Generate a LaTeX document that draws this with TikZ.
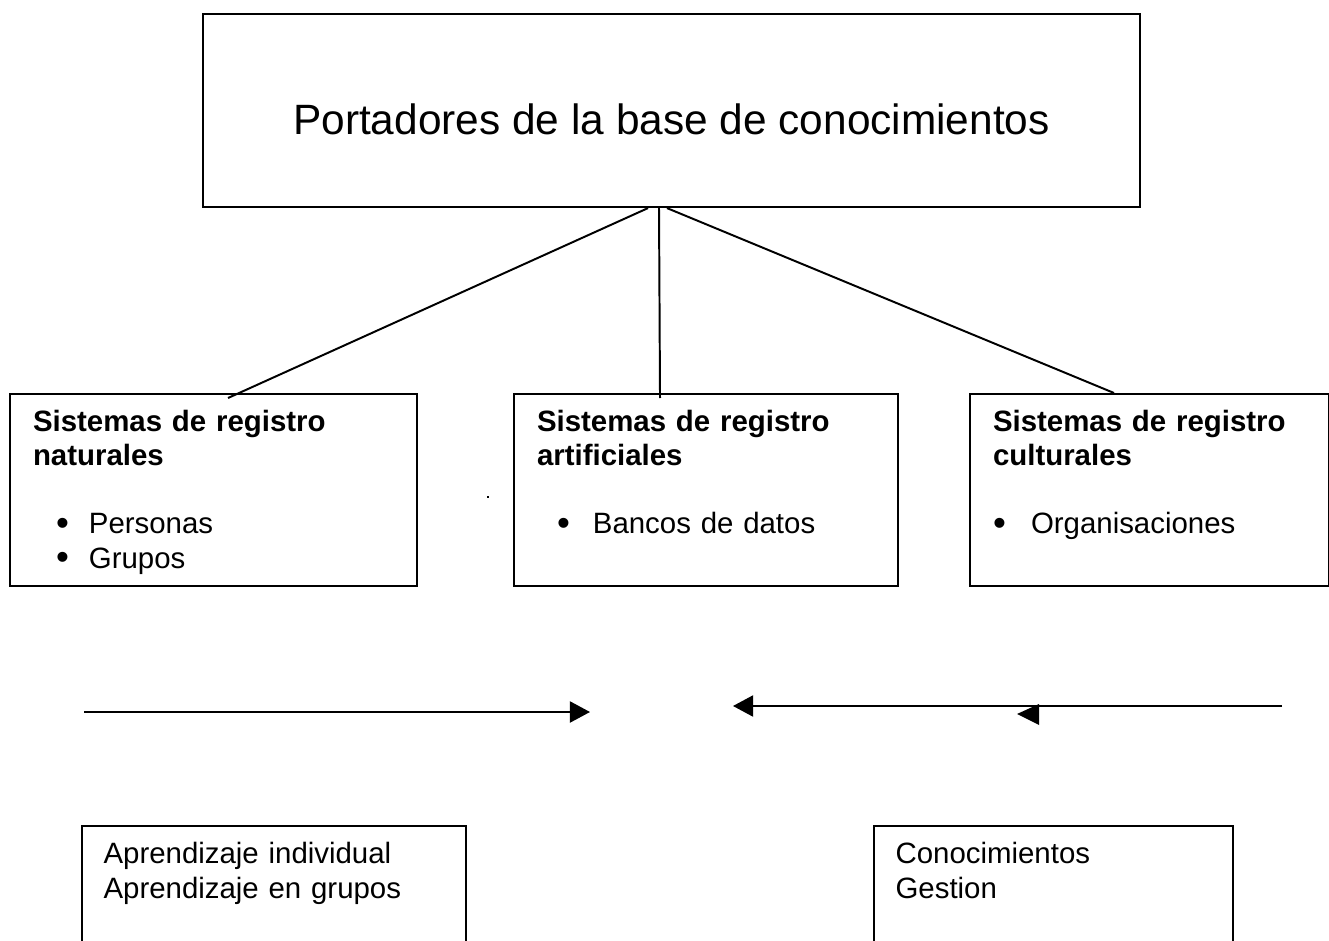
\documentclass[tikz,border=0pt]{standalone}
\usepackage{fontspec}
\setmainfont{Liberation Sans}
\usepackage{tikz}
\usetikzlibrary{arrows.meta,positioning,calc}

% bullet line: indent, gap to the text, text
\newcommand{\bitem}[3]{\hspace*{#1}\makebox[#2][l]{\raisebox{-0.6pt}{\fontsize{15}{15}\selectfont\textbullet}}#3}

\begin{document}
\begin{tikzpicture}[
    x=0.408pt, y=0.408pt,
    line width=0.8pt,
    every node/.style={font=\fontsize{12}{13.9}\selectfont},
    titlebox/.style={
        draw, anchor=north, inner sep=0pt, minimum width=382.3pt,
        text height=49.2pt, text depth=29.6pt,
        font=\fontsize{17.3}{20}\selectfont
    },
    regbox/.style={
        draw, anchor=north west, align=left, inner xsep=9.4pt, inner ysep=0pt,
        text height=15.4pt, text depth=62.9pt, text width=#1
    },
    lowbox/.style={
        draw, anchor=north west, align=left, inner xsep=8.8pt, inner ysep=0pt,
        text height=15.5pt, text depth=39.6pt, text width=#1
    },
    arrow/.style={-{Triangle[length=8.2pt,width=8.6pt]}}
]
\clip (0,0) rectangle (1329,-940);

% Titel
\node[titlebox] (base) at (671.5,-13) {Portadores de la base de conocimientos};

% Sistemas de registro
\node[regbox=147.3pt] (natur) at (9,-393)
    {\textbf{Sistemas de registro}\\\textbf{naturales}\\[13.9pt]
     \bitem{9.4pt}{13.4pt}{Personas}\\\bitem{9.4pt}{13.4pt}{Grupos}};
\node[regbox=137.9pt] (artif) at (513,-393)
    {\textbf{Sistemas de registro}\\\textbf{artificiales}\\[13.9pt]
     \bitem{8.2pt}{14.6pt}{Bancos de datos}};
\node[regbox=127.7pt] (cultu) at (969,-393)
    {\textbf{Sistemas de registro}\\\textbf{culturales}\\[13.9pt]
     \bitem{0pt}{15.5pt}{Organisaciones}};

% Aprendizaje / Conocimientos
\node[lowbox=139.1pt] (aprend) at (81,-825)
    {Aprendizaje individual\\Aprendizaje en grupos};
\node[lowbox=128.9pt] (conoc) at (873,-825)
    {Conocimientos\\Gestion};

% Lineas
\draw ([shift={(-23.5,0)}]base.south) -- ([shift={(14.5,-5)}]natur.north);
\draw ([shift={(-12.5,0)}]base.south) -- ([shift={(-46,-5)}]artif.north);
\draw ([shift={(-4.5,0)}]base.south) -- ([shift={(-35.5,0)}]cultu.north);

% Flechas
\coordinate (izqA) at (84,-712);
\coordinate (izqB) at (590,-712);
\coordinate (derA) at (1282,-706);
\coordinate (derB) at (733,-706);
\draw[arrow] (izqA) -- (izqB);
\draw[arrow] (derA) -- (derB);
\fill (1017,-714) -- (1039,-704) -- (1039,-725) -- cycle;

% puntos sueltos
\fill (487,-496) rectangle (489,-498);

\end{tikzpicture}
\end{document}
